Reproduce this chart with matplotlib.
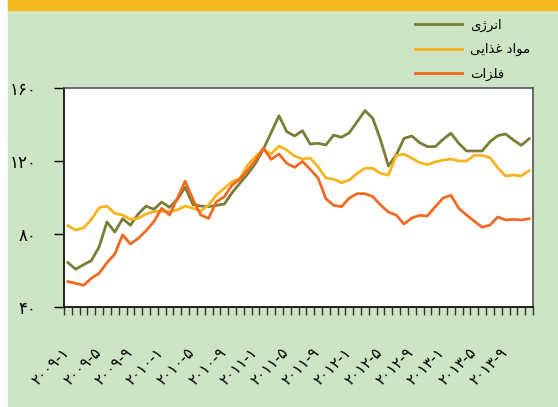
import matplotlib
matplotlib.use("Agg")
import matplotlib.pyplot as plt
import matplotlib.transforms as mtransforms
from matplotlib.patches import Rectangle
import numpy as np

# monthly index values, 2009-1 .. 2013-12
energy = [64.3, 60.7, 63.2, 65.4, 73.0, 86.6, 81.1, 88.4, 84.8, 91.0,
          95.3, 93.5, 97.5, 94.6, 99.0, 105.6, 96.1, 95.3, 95.0, 95.7,
          96.4, 102.6, 107.8, 112.9, 118.7, 126.4, 135.5, 144.8, 136.1, 133.7,
          136.6, 129.3, 129.7, 128.8, 134.2, 133.0, 135.5, 141.5, 147.6, 143.4,
          131.5, 117.3, 123.3, 132.4, 133.7, 130.0, 127.9, 127.9, 131.9, 135.2,
          129.7, 125.5, 125.5, 125.5, 130.6, 133.9, 134.8, 131.5, 128.6, 132.2]
food = [84.6, 82.2, 83.3, 88.0, 94.4, 95.3, 91.3, 90.4, 88.0, 88.6,
        91.0, 92.2, 92.6, 92.2, 93.2, 95.3, 94.2, 92.6, 95.9, 101.4,
        105.0, 108.7, 110.5, 117.8, 122.4, 126.4, 123.8, 128.2, 126.0, 122.7,
        121.1, 121.6, 116.9, 110.7, 110.0, 108.1, 109.6, 113.2, 116.0, 116.0,
        113.2, 112.3, 122.9, 123.8, 121.5, 119.1, 118.0, 119.5, 120.5, 121.1,
        120.0, 120.0, 123.1, 123.1, 121.8, 116.3, 111.8, 112.3, 111.8, 114.7]
metals = [53.9, 53.0, 51.9, 55.7, 58.5, 64.3, 69.0, 79.5, 74.5, 77.6,
          81.8, 86.8, 94.1, 90.4, 99.5, 109.0, 99.0, 90.4, 88.6, 97.7,
          100.4, 106.8, 110.0, 115.0, 120.2, 127.0, 120.9, 123.8, 118.7, 116.5,
          119.8, 115.4, 110.7, 99.4, 95.7, 95.0, 99.7, 102.1, 102.1, 100.5,
          95.9, 92.0, 90.4, 85.5, 88.8, 90.2, 89.9, 95.0, 99.7, 101.2,
          94.1, 90.4, 87.0, 83.7, 84.9, 89.3, 87.7, 88.0, 87.7, 88.4]

yTicks = [40, 80, 120, 160]
xLabelMonths = ["2009-1", "2009-5", "2009-9", "2010-1", "2010-5", "2010-9",
                "2011-1", "2011-5", "2011-9", "2012-1", "2012-5", "2012-9",
                "2013-1", "2013-5", "2013-9"]

# Persian labels, pre-shaped (presentation forms, visual order) since matplotlib does no bidi shaping
labelEnergy = "\ufbfc\ufb8a\ufeae\ufee7\ufe8d"                                   # انرژی
labelFood = "\ufbfd\ufbfe\ufe8d\ufeac\ufecf \ufea9\ufe8d\ufeee\ufee3"            # مواد غذایی
labelMetals = "\ufe95\ufe8d\ufeb0\ufee0\ufed3"                                  # فلزات

persianDigits = str.maketrans("0123456789", "\u06f0\u06f1\u06f2\u06f3\u06f4\u06f5\u06f6\u06f7\u06f8\u06f9")

# colours
energyColour = "#7a7d35"
foodColour = "#f7b41f"
metalsColour = "#f26a22"
bgColour = "#cde5c4"
bandColour = "#f6b91f"

W, H = 558, 407
fig = plt.figure(figsize=(W/100, H/100), dpi=100)
fig.patch.set_facecolor("white")
fig.patches.append(Rectangle((8/W, 0), 1, 1, transform=fig.transFigure, color=bgColour, zorder=-2))
fig.patches.append(Rectangle((8/W, 1-10/H), 1, 10/H, transform=fig.transFigure, color=bandColour, zorder=-1))

ax = fig.add_axes([64/W, 1-307/H, (533-64)/W, (307-88)/H])
ax.set_facecolor("white")

x = np.arange(len(energy))
lw = 2.0
l1, = ax.plot(x, energy, color=energyColour, lw=lw)
l2, = ax.plot(x, food, color=foodColour, lw=lw)
l3, = ax.plot(x, metals, color=metalsColour, lw=lw)

ax.set_xlim(-0.5, len(energy)-0.5)
ax.set_ylim(40, 160)

ax.set_yticks(yTicks)
ax.set_yticklabels([str(v).translate(persianDigits) for v in yTicks], fontsize=12)
ax.tick_params(axis="y", direction="out", length=7, width=1, pad=13, colors="black")

ax.set_xticks(np.arange(0, len(energy), 4))
ax.set_xticklabels([s.translate(persianDigits) for s in xLabelMonths], rotation=45,
                   ha="right", va="top", rotation_mode="anchor", fontsize=11)
ax.set_xticks(np.arange(-0.5, len(energy), 1), minor=True)
ax.tick_params(axis="x", which="major", length=0, pad=27)
ax.tick_params(axis="x", which="minor", direction="out", length=6, width=1, color="#333333")

# nudge the slanted month labels a little to the left
shift = mtransforms.ScaledTranslation(-6/100, 0, fig.dpi_scale_trans)
for lab in ax.get_xticklabels():
    lab.set_transform(lab.get_transform() + shift)

for side in ["left", "bottom"]:
    ax.spines[side].set_color("black")
    ax.spines[side].set_linewidth(1.2)
for side in ["top", "right"]:
    ax.spines[side].set_color("#555555")
    ax.spines[side].set_linewidth(1.2)

fig.legend([l1, l2, l3], [labelEnergy, labelFood, labelMetals],
           loc="upper left", bbox_to_anchor=(403/W, 1-7/H), frameon=False,
           fontsize=9.5, handlelength=3.6, handletextpad=0.6, labelspacing=0.85)

fig.savefig("out.png", dpi=100, facecolor=fig.get_facecolor())
